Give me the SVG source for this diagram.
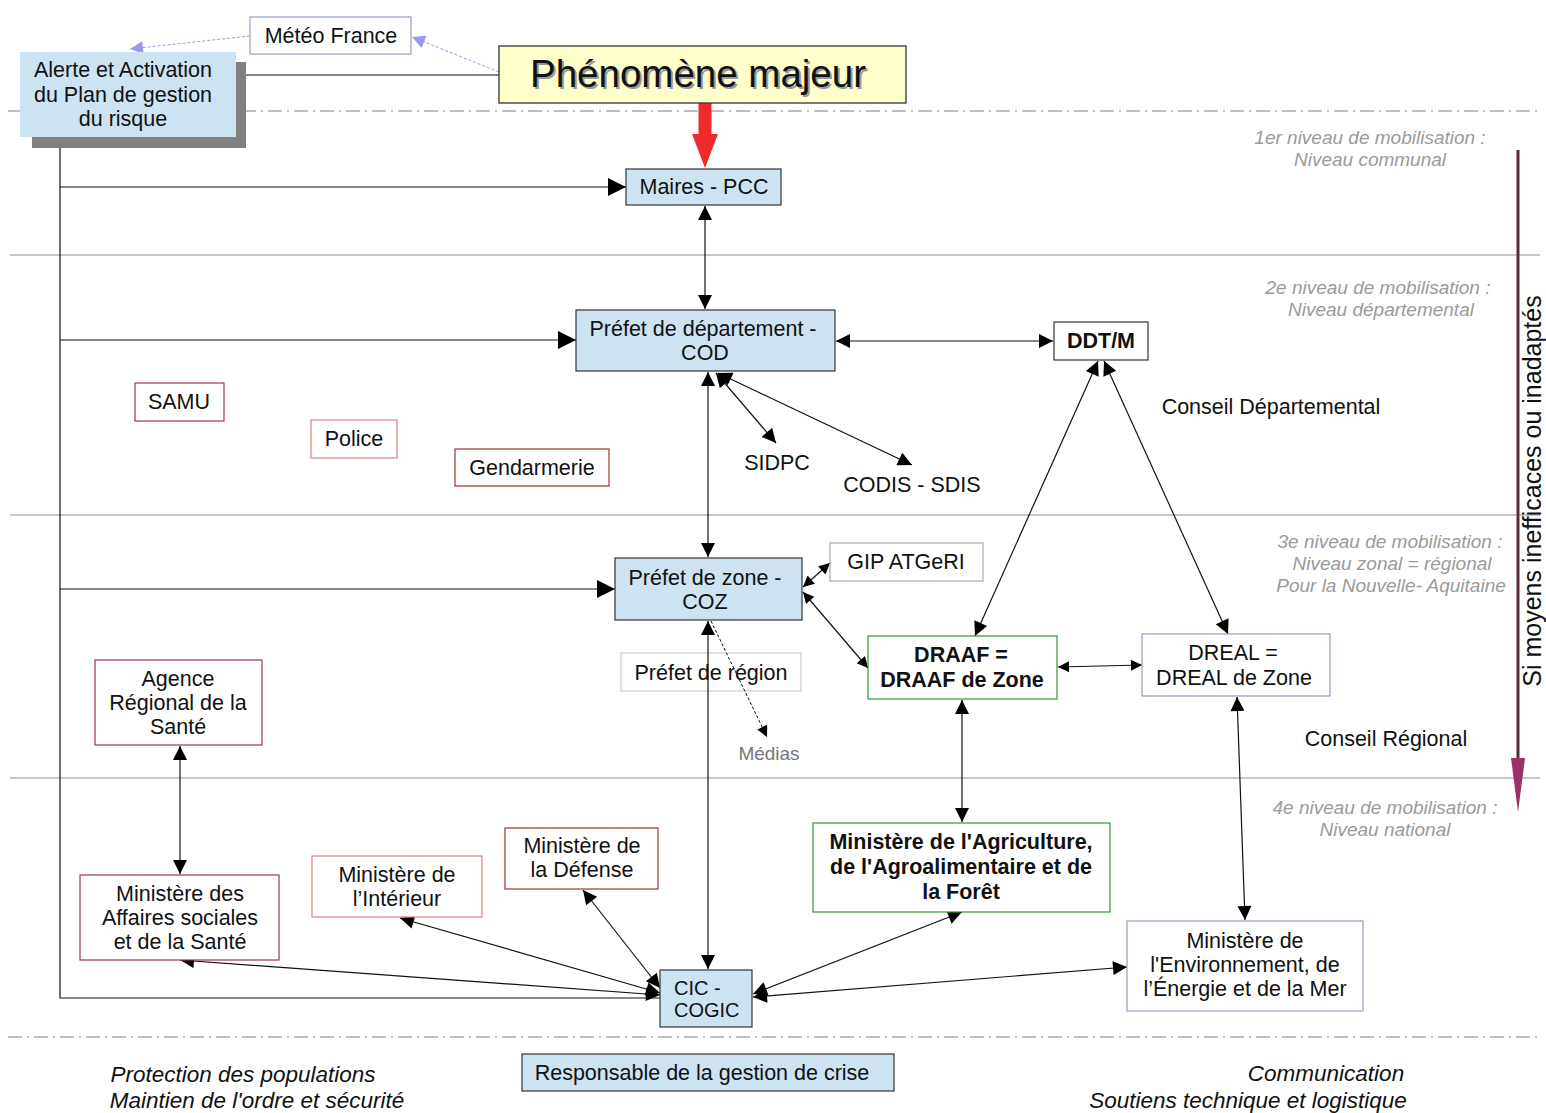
<svg xmlns="http://www.w3.org/2000/svg" width="1546" height="1113" viewBox="0 0 1546 1113">
<defs>
<style>
text{font-family:"Liberation Sans",Arial,sans-serif;fill:#111;}
.n{font-size:21.5px;text-anchor:middle;}
.b{font-weight:bold;}
.lvl{font-size:19px;font-style:italic;fill:#9a9a9a;text-anchor:middle;}
.it{font-size:22.5px;font-style:italic;text-anchor:middle;}
.box{stroke-width:1.2;}
.blue{fill:#cde3f2;stroke:#333;}
.w{fill:#fff;}
.ln{stroke:#111;stroke-width:1.2;fill:none;}
.sep{stroke:#b5b5b5;stroke-width:1.3;}
.dash{stroke:#aaa;stroke-width:1.3;stroke-dasharray:14 5 2 5;}
</style>
<marker id="ah" viewBox="0 0 10 10" refX="10" refY="5" markerWidth="22" markerHeight="14" markerUnits="userSpaceOnUse" orient="auto-start-reverse"><path d="M0,0L10,5L0,10z" fill="#000"/></marker>
<marker id="as" viewBox="0 0 10 10" refX="10" refY="5" markerWidth="16" markerHeight="11" markerUnits="userSpaceOnUse" orient="auto-start-reverse"><path d="M0,0L10,5L0,10z" fill="#000"/></marker>
<marker id="ab" viewBox="0 0 10 10" refX="10" refY="5" markerWidth="34" markerHeight="18" markerUnits="userSpaceOnUse" orient="auto"><path d="M0,0L10,5L0,10z" fill="#000"/></marker>
<marker id="blu" viewBox="0 0 10 10" refX="10" refY="5" markerWidth="18" markerHeight="13" markerUnits="userSpaceOnUse" orient="auto"><path d="M0,0L10,5L0,10z" fill="#9999ee"/></marker>
</defs>

<g id="separators">
<line class="dash" x1="8" y1="111" x2="1540" y2="111"/>
<line class="sep" x1="10" y1="255" x2="1540" y2="255"/>
<line class="sep" x1="10" y1="515" x2="1540" y2="515"/>
<line class="sep" x1="10" y1="778" x2="1540" y2="778"/>
<line class="dash" x1="8" y1="1037" x2="1540" y2="1037"/>
</g>

<g id="levels">
<text class="lvl" x="1370" y="144">1er niveau de mobilisation :</text>
<text class="lvl" x="1370" y="166">Niveau communal</text>
<text class="lvl" x="1378" y="294">2e niveau de mobilisation :</text>
<text class="lvl" x="1381" y="316">Niveau départemental</text>
<text class="lvl" x="1390" y="548">3e niveau de mobilisation :</text>
<text class="lvl" x="1392" y="570">Niveau zonal = régional</text>
<text class="lvl" x="1391" y="592">Pour la Nouvelle- Aquitaine</text>
<text class="lvl" x="1385" y="814">4e niveau de mobilisation :</text>
<text class="lvl" x="1385" y="836">Niveau national</text>
</g>

<g id="escalation">
<line x1="1518" y1="150" x2="1518" y2="760" stroke="#5a2a3e" stroke-width="3"/>
<path d="M1511,758L1525,758L1518,812z" fill="#9b3166"/>
<text x="1541" y="491" font-size="25" text-anchor="middle" transform="rotate(-90 1541 491)">Si moyens inefficaces ou inadaptés</text>
</g>

<g id="prefet-region"><rect class="box w" x="621" y="653" width="180" height="38" stroke="#ccc"/><text class="n" x="711" y="680">Préfet de région</text></g>

<g id="connectors">
<line x1="250" y1="36" x2="130" y2="49" stroke="#9999ee" stroke-width="1" stroke-dasharray="3 2" marker-end="url(#blu)"/>
<line x1="499" y1="72" x2="412" y2="37" stroke="#9999ee" stroke-width="1" stroke-dasharray="3 2" marker-end="url(#blu)"/>
<line class="ln" x1="236" y1="75" x2="499" y2="75"/>
<line x1="705" y1="103" x2="705" y2="138" stroke="#ee2a2a" stroke-width="13"/>
<path d="M692,134L718,134L705,168z" fill="#ee2a2a"/>
<polyline class="ln" points="60,148 60,998 660,998"/>
<line class="ln" x1="60" y1="187" x2="626" y2="187" marker-end="url(#ab)"/>
<line class="ln" x1="60" y1="340" x2="576" y2="340" marker-end="url(#ab)"/>
<line class="ln" x1="60" y1="589" x2="615" y2="589" marker-end="url(#ab)"/>
<line class="ln" x1="705" y1="206" x2="705" y2="309" marker-start="url(#ah)" marker-end="url(#ah)"/>
<line class="ln" x1="836" y1="341" x2="1053" y2="341" marker-start="url(#ah)" marker-end="url(#ah)"/>
<line class="ln" x1="708" y1="372" x2="708" y2="557" marker-start="url(#ah)" marker-end="url(#ah)"/>
<line class="ln" x1="716" y1="373" x2="776" y2="443" marker-start="url(#ah)" marker-end="url(#ah)"/>
<line class="ln" x1="718" y1="373" x2="912" y2="465" marker-start="url(#ah)" marker-end="url(#ah)"/>
<line class="ln" x1="1098" y1="361" x2="975" y2="636" marker-start="url(#ah)" marker-end="url(#ah)"/>
<line class="ln" x1="1104" y1="361" x2="1228" y2="634" marker-start="url(#ah)" marker-end="url(#ah)"/>
<line class="ln" x1="803" y1="587" x2="830" y2="563" marker-start="url(#as)" marker-end="url(#as)"/>
<line class="ln" x1="803" y1="592" x2="868" y2="668" marker-start="url(#as)" marker-end="url(#as)"/>
<line class="ln" x1="1058" y1="667" x2="1142" y2="665" marker-start="url(#as)" marker-end="url(#as)"/>
<line x1="711" y1="621" x2="767" y2="737" stroke="#111" stroke-width="1" stroke-dasharray="3 2" marker-end="url(#as)"/>
<line class="ln" x1="708" y1="621" x2="708" y2="969" marker-start="url(#ah)" marker-end="url(#ah)"/>
<line class="ln" x1="180" y1="746" x2="180" y2="874" marker-start="url(#ah)" marker-end="url(#ah)"/>
<line class="ln" x1="962" y1="700" x2="962" y2="822" marker-start="url(#ah)" marker-end="url(#ah)"/>
<line class="ln" x1="1237" y1="697" x2="1245" y2="920" marker-start="url(#ah)" marker-end="url(#ah)"/>
<line class="ln" x1="660" y1="995" x2="180" y2="960" marker-start="url(#ah)" marker-end="url(#ah)"/>
<line class="ln" x1="660" y1="993" x2="400" y2="918" marker-start="url(#ah)" marker-end="url(#ah)"/>
<line class="ln" x1="660" y1="988" x2="583" y2="890" marker-start="url(#ah)" marker-end="url(#ah)"/>
<line class="ln" x1="753" y1="994" x2="962" y2="912" marker-start="url(#ah)" marker-end="url(#ah)"/>
<line class="ln" x1="753" y1="997" x2="1127" y2="967" marker-start="url(#ah)" marker-end="url(#ah)"/>
</g>

<g id="meteo"><rect class="box w" x="250" y="17" width="161" height="37" stroke="#9999cc"/><text class="n" x="331" y="43">Météo France</text></g>

<g id="alerte">
<rect x="32" y="62" width="214" height="86" fill="#808080"/>
<rect x="20" y="52" width="216" height="85" fill="#cde3f2"/>
<text class="n" x="123" y="77">Alerte et Activation</text>
<text class="n" x="123" y="102">du Plan de gestion</text>
<text class="n" x="123" y="126">du risque</text>
</g>

<g id="phenomene">
<rect x="499" y="46" width="407" height="57" fill="#ffffcc" stroke="#333" stroke-width="1.3"/>
<text x="700" y="89" font-size="38.5" text-anchor="middle" style="fill:#9a9a9a">Phénomène majeur</text>
<text x="698" y="87" font-size="38.5" text-anchor="middle">Phénomène majeur</text>
</g>

<g id="maires"><rect class="box blue" x="626" y="169" width="155" height="36"/><text class="n" x="704" y="194">Maires - PCC</text></g>

<g id="prefet-dept"><rect class="box blue" x="576" y="310" width="259" height="61"/><text class="n" x="703" y="336">Préfet de département -</text><text class="n" x="705" y="360">COD</text></g>

<g id="ddtm"><rect class="box w" x="1054" y="322" width="94" height="38" stroke="#333"/><text class="n b" x="1101" y="348">DDT/M</text></g>

<g id="samu"><rect class="box w" x="135" y="383" width="89" height="38" stroke="#993366"/><text class="n" x="179" y="409">SAMU</text></g>
<g id="police"><rect class="box w" x="311" y="420" width="86" height="38" stroke="#e08080"/><text class="n" x="354" y="446">Police</text></g>
<g id="gendarmerie"><rect class="box w" x="455" y="449" width="154" height="37" stroke="#993333"/><text class="n" x="532" y="475">Gendarmerie</text></g>

<g id="sidpc"><text class="n" x="777" y="470">SIDPC</text></g>
<g id="codis"><text class="n" x="912" y="492">CODIS - SDIS</text></g>
<g id="conseil-dept"><text class="n" x="1271" y="414">Conseil Départemental</text></g>

<g id="prefet-zone"><rect class="box blue" x="615" y="558" width="187" height="62"/><text class="n" x="705" y="585">Préfet de zone -</text><text class="n" x="705" y="609">COZ</text></g>

<g id="gip"><rect class="box w" x="830" y="543" width="153" height="38" stroke="#aaa"/><text class="n" x="906" y="569">GIP ATGeRI</text></g>

<g id="medias"><text x="769" y="760" font-size="19" text-anchor="middle" style="fill:#777">Médias</text></g>

<g id="draaf"><rect class="box w" x="868" y="636" width="189" height="63" stroke="#339933"/><text class="n b" x="961" y="662">DRAAF =</text><text class="n b" x="962" y="687">DRAAF de Zone</text></g>

<g id="dreal"><rect class="box w" x="1142" y="634" width="188" height="62" stroke="#9999cc"/><text class="n" x="1233" y="660">DREAL =</text><text class="n" x="1234" y="685">DREAL de Zone</text></g>

<g id="conseil-regional"><text class="n" x="1386" y="746">Conseil Régional</text></g>

<g id="ars"><rect class="box w" x="95" y="660" width="167" height="85" stroke="#993366"/><text class="n" x="178" y="686">Agence</text><text class="n" x="178" y="710">Régional de la</text><text class="n" x="178" y="734">Santé</text></g>

<g id="min-sante"><rect class="box w" x="80" y="875" width="199" height="85" stroke="#993366"/><text class="n" x="180" y="901">Ministère des</text><text class="n" x="180" y="925">Affaires sociales</text><text class="n" x="180" y="949">et de la Santé</text></g>

<g id="min-interieur"><rect class="box w" x="312" y="856" width="170" height="61" stroke="#e08080"/><text class="n" x="397" y="882">Ministère de</text><text class="n" x="397" y="906">l’Intérieur</text></g>

<g id="min-defense"><rect class="box w" x="505" y="828" width="153" height="61" stroke="#993333"/><text class="n" x="582" y="853">Ministère de</text><text class="n" x="582" y="877">la Défense</text></g>

<g id="min-agri"><rect class="box w" x="813" y="823" width="297" height="89" stroke="#339933"/><text class="n b" x="961" y="849">Ministère de l'Agriculture,</text><text class="n b" x="961" y="874">de l'Agroalimentaire et de</text><text class="n b" x="961" y="899">la Forêt</text></g>

<g id="min-env"><rect class="box w" x="1127" y="921" width="236" height="90" stroke="#9999cc"/><text class="n" x="1245" y="948">Ministère de</text><text class="n" x="1245" y="972">l'Environnement, de</text><text class="n" x="1245" y="996">l’Énergie et de la Mer</text></g>

<g id="cic"><rect class="box blue" x="660" y="970" width="92" height="57"/><text x="674" y="995" font-size="20">CIC -</text><text x="674" y="1017" font-size="20">COGIC</text></g>

<g id="legend">
<rect class="box blue" x="522" y="1054" width="372" height="37"/>
<text class="n" x="702" y="1080">Responsable de la gestion de crise</text>
<text class="it" x="243" y="1082">Protection des populations</text>
<text class="it" x="257" y="1108">Maintien de l'ordre et sécurité</text>
<text class="it" x="1326" y="1081">Communication</text>
<text class="it" x="1248" y="1108">Soutiens technique et logistique</text>
</g>
</svg>
